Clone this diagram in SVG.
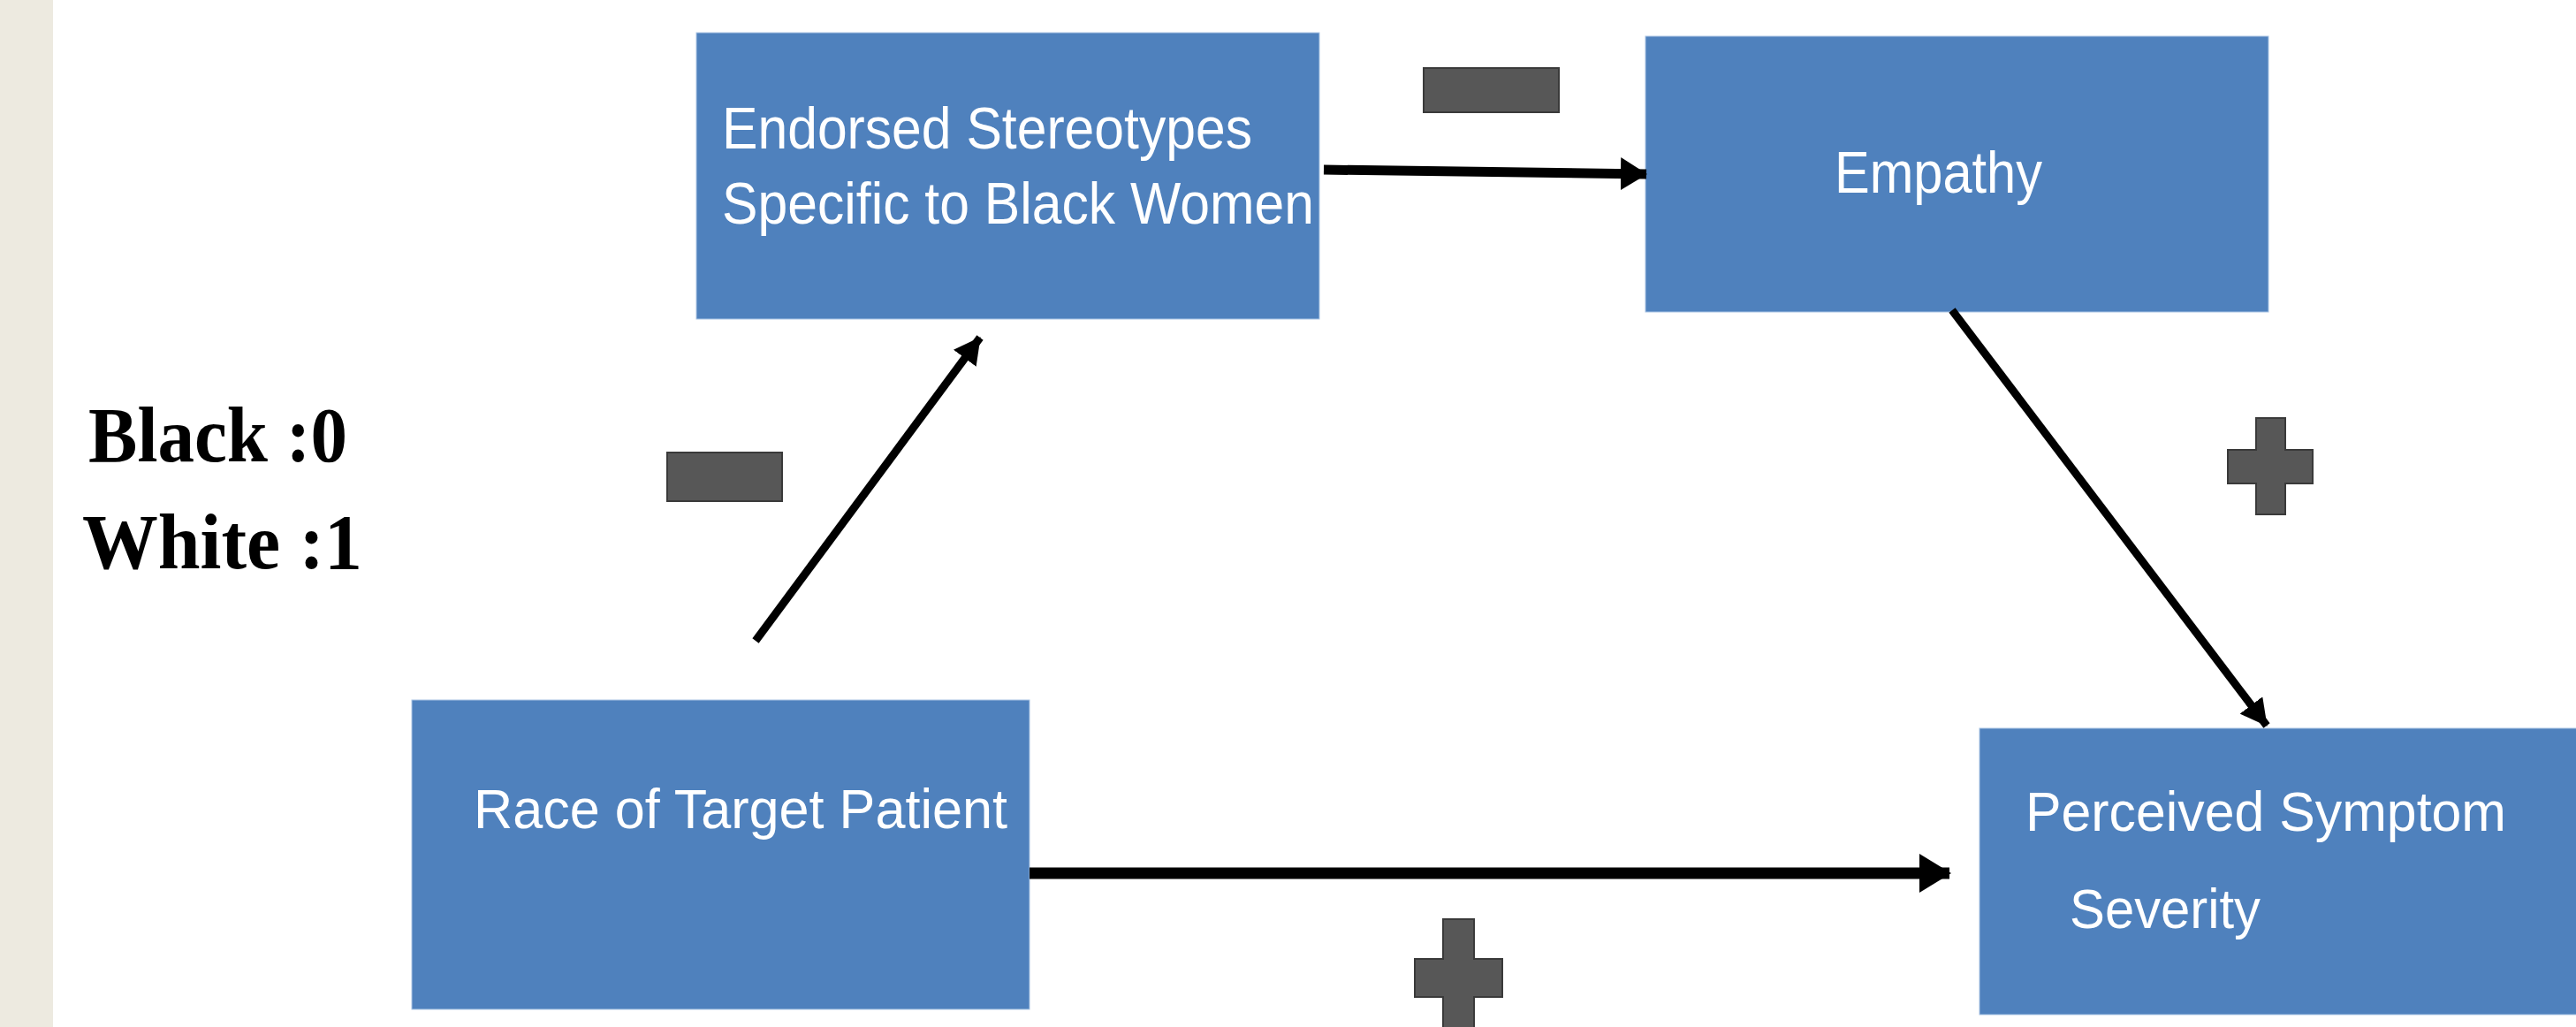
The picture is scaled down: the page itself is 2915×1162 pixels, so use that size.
<svg xmlns="http://www.w3.org/2000/svg" width="2915" height="1162" viewBox="0 0 2915 1162">
<style>
.box{fill:#4f81bd;stroke:#a9c4e4;stroke-width:1}
.lbl{font-family:"Liberation Sans",Arial,sans-serif;fill:#ffffff}
.conn{stroke:#000;fill:none;stroke-linecap:butt}
.sign{fill:#575757;stroke:#3a3a3a;stroke-width:2}
.code{font-family:"Liberation Serif","DejaVu Serif",serif;font-weight:bold;font-size:88px;fill:#000}
</style>
<defs>
<marker id="ahL" viewBox="0 0 36 44" refX="34" refY="22" markerWidth="36" markerHeight="44" markerUnits="userSpaceOnUse" orient="auto"><path d="M0,0 L36,22 L0,44 Z" fill="#000"/></marker>
<marker id="ahM" viewBox="0 0 30 37" refX="29" refY="18.5" markerWidth="30" markerHeight="37" markerUnits="userSpaceOnUse" orient="auto"><path d="M0,0 L30,18.5 L0,37 Z" fill="#000"/></marker>
<marker id="ahS" viewBox="0 0 30 32" refX="29" refY="16" markerWidth="30" markerHeight="32" markerUnits="userSpaceOnUse" orient="auto"><path d="M0,0 L30,16 L0,32 Z" fill="#000"/></marker>
<filter id="shadow" x="-5%" y="-100%" width="110%" height="400%"><feGaussianBlur stdDeviation="6"/></filter>
</defs>
<rect x="0" y="0" width="2915" height="1162" fill="#ffffff"/>
<rect x="0" y="0" width="60" height="1162" fill="#edeae0"/>

<g id="legend">
<text class="code" x="100" y="522" textLength="293" lengthAdjust="spacingAndGlyphs">Black :0</text>
<text class="code" x="93" y="643" textLength="317" lengthAdjust="spacingAndGlyphs">White :1</text>
</g>

<g id="node-endorsed">
<rect class="box" x="788" y="37" width="705" height="324"/>
<text class="lbl" font-size="67" x="817" y="168" textLength="600" lengthAdjust="spacingAndGlyphs">Endorsed Stereotypes</text>
<text class="lbl" font-size="67" x="817" y="253" textLength="670" lengthAdjust="spacingAndGlyphs">Specific to Black Women</text>
</g>

<g id="node-empathy">
<rect class="box" x="1862" y="41" width="705" height="312"/>
<text class="lbl" font-size="67" x="2076" y="218" textLength="235" lengthAdjust="spacingAndGlyphs">Empathy</text>
</g>

<g id="node-race">
<rect class="box" x="466" y="792" width="699" height="350"/>
<text class="lbl" font-size="63" x="536" y="937" textLength="604" lengthAdjust="spacingAndGlyphs">Race of Target Patient</text>
</g>

<g id="node-perceived">
<rect class="box" x="2240" y="824" width="680" height="324"/>
<text class="lbl" font-size="63" x="2292" y="940" textLength="544" lengthAdjust="spacingAndGlyphs">Perceived Symptom</text>
<text class="lbl" font-size="63" x="2342" y="1050" textLength="216" lengthAdjust="spacingAndGlyphs">Severity</text>
</g>

<g id="connectors">
<line x1="1170" y1="1002" x2="2190" y2="1002" stroke="#9a9a9a" stroke-width="14" filter="url(#shadow)" opacity="0.6"/>
<line class="conn" x1="1498" y1="192" x2="1863" y2="197" stroke-width="11" marker-end="url(#ahM)"/>
<line class="conn" x1="855" y1="725" x2="1109" y2="382" stroke-width="9" marker-end="url(#ahS)"/>
<line class="conn" x1="2209" y1="351" x2="2565" y2="821" stroke-width="9" marker-end="url(#ahS)"/>
<line class="conn" x1="1165" y1="988" x2="2206" y2="988" stroke-width="13" marker-end="url(#ahL)"/>
</g>

<g id="signs">
<rect class="sign" x="1611" y="77" width="153" height="50"/>
<rect class="sign" x="755" y="512" width="130" height="55"/>
<path class="sign" d="M2553,473 H2586 V509 H2617 V547 H2586 V582 H2553 V547 H2521 V509 H2553 Z"/>
<path class="sign" d="M1633,1040 H1668 V1085 H1700 V1128 H1668 V1175 H1633 V1128 H1601 V1085 H1633 Z"/>
</g>
</svg>
